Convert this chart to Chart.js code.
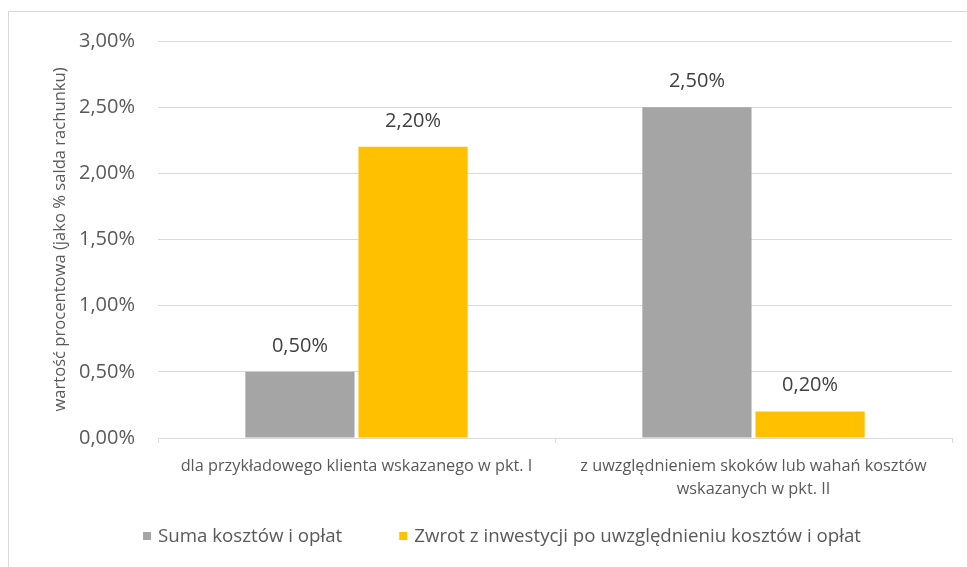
<!DOCTYPE html>
<html>
<head>
<meta charset="utf-8">
<script src="https://cdn.jsdelivr.net/npm/chart.js@4.4.0/dist/chart.umd.min.js"></script>
<style>
  html, body { margin: 0; padding: 0; background: #fff; }
  #wrap { width: 967px; height: 567px; }
</style>
</head>
<body>
<div id="wrap"><canvas id="kosztyChart" width="967" height="567"></canvas></div>
<script>
// Data
var categories = [
  'dla przykładowego klienta wskazanego w pkt. I',
  ['z uwzględnieniem skoków lub wahań kosztów', 'wskazanych w pkt. II']
];
var seriesNames = ['Suma kosztów i opłat', 'Zwrot z inwestycji po uwzględnieniu kosztów i opłat'];
var sumaKosztow = [0.50, 2.50];
var zwrotInwestycji = [2.20, 0.20];
var yTicks = [0, 0.5, 1, 1.5, 2, 2.5, 3];

var colors = ['#A5A5A5', '#FFC000'];
var fontFamily = "'Open Sans', sans-serif";

function fmtPct(v) {
  return v.toFixed(2).replace('.', ',') + '%';
}

// Border + white background
var frame = {
  id: 'frame',
  beforeDraw: function (chart) {
    var ctx = chart.ctx;
    ctx.save();
    ctx.fillStyle = '#fff';
    ctx.fillRect(0, 0, chart.width, chart.height);
    ctx.strokeStyle = '#d9d9d9';
    ctx.lineWidth = 1;
    ctx.strokeRect(8.5, 11.5, 1000, 1000);
    ctx.restore();
  }
};

// Value labels above bars
var valueLabels = {
  id: 'valueLabels',
  afterDatasetsDraw: function (chart) {
    var ctx = chart.ctx;
    ctx.save();
    ctx.font = '20px ' + fontFamily;
    ctx.fillStyle = '#404040';
    ctx.textAlign = 'center';
    ctx.textBaseline = 'middle';
    chart.data.datasets.forEach(function (ds, i) {
      chart.getDatasetMeta(i).data.forEach(function (bar, j) {
        ctx.fillText(fmtPct(ds.data[j]), bar.x, bar.y - 26);
      });
    });
    ctx.restore();
  }
};

// Legend drawn by hand (Excel style, wide gap between items)
var bottomLegend = {
  id: 'bottomLegend',
  afterDraw: function (chart) {
    var ctx = chart.ctx;
    var box = 8, gapText = 7, gapItem = 57, y = 536;
    ctx.save();
    ctx.font = '18.7px ' + fontFamily;
    ctx.textBaseline = 'middle';
    ctx.textAlign = 'left';
    var widths = seriesNames.map(function (t) { return ctx.measureText(t).width; });
    var total = 0;
    widths.forEach(function (w, i) { total += box + gapText + w + (i > 0 ? gapItem : 0); });
    var x = 502 - total / 2;
    seriesNames.forEach(function (t, i) {
      ctx.fillStyle = colors[i];
      ctx.fillRect(x, y - box / 2, box, box);
      ctx.fillStyle = '#595959';
      ctx.fillText(t, x + box + gapText, y + 1);
      x += box + gapText + widths[i] + gapItem;
    });
    ctx.restore();
  }
};

var ctx = document.getElementById('kosztyChart').getContext('2d');
var chart = new Chart(ctx, {
  type: 'bar',
  data: {
    labels: categories,
    datasets: [
      {
        label: seriesNames[0],
        data: sumaKosztow,
        backgroundColor: colors[0],
        categoryPercentage: 0.57,
        barPercentage: 0.965
      },
      {
        label: seriesNames[1],
        data: zwrotInwestycji,
        backgroundColor: colors[1],
        categoryPercentage: 0.57,
        barPercentage: 0.965
      }
    ]
  },
  options: {
    responsive: false,
    animation: false,
    layout: { padding: { top: 41, right: 15, bottom: 0, left: 0 } },
    plugins: {
      legend: { display: false },
      tooltip: { enabled: false }
    },
    scales: {
      x: {
        grid: {
          offset: true,
          drawOnChartArea: false,
          drawTicks: true,
          tickLength: 5,
          color: '#d9d9d9',
          tickColor: '#d9d9d9'
        },
        border: { color: '#d9d9d9' },
        ticks: {
          color: '#595959',
          padding: 12,
          maxRotation: 0,
          autoSkip: false,
          font: { family: fontFamily, size: 16.3, lineHeight: 1.42 }
        },
        afterFit: function (scale) { scale.height = 129; }
      },
      y: {
        min: 0,
        max: 3,
        afterBuildTicks: function (scale) {
          scale.ticks = yTicks.map(function (v) { return { value: v }; });
        },
        grid: { color: '#d9d9d9', drawTicks: false },
        border: { display: false },
        ticks: {
          color: '#595959',
          padding: 23,
          font: { family: fontFamily, size: 20 },
          callback: function (v) { return fmtPct(v); }
        },
        title: {
          display: true,
          text: 'wartość procentowa (jako % salda rachunku)',
          color: '#595959',
          font: { family: fontFamily, size: 16.6 },
          padding: { top: 50, bottom: 0 }
        },
        afterFit: function (scale) { scale.width = 158; }
      }
    }
  },
  plugins: [frame, valueLabels, bottomLegend]
});
</script>
</body>
</html>
